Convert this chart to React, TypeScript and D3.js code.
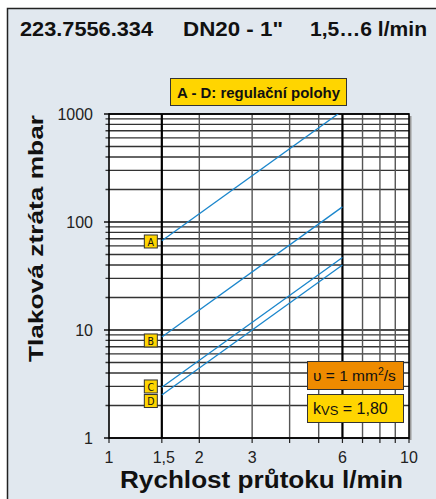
import React from 'react';
import * as d3 from 'd3';

// průtok l/min a tlaková ztráta mbar pro regulační polohy A - D
const flow = [1.5, 6];
const seriesNames = ['A', 'B', 'C', 'D'];
const lossA = [67, 1072];
const lossB = [8.6, 138];
const lossC = [2.95, 47];
const lossD = [2.5, 40];
const labelAt = [66, 8.0, 3.0, 2.2];

const xTickValues = [1, 1.5, 2, 3, 6, 10];
const xTickLabels = ['1', '1,5', '2', '3', '6', '10'];
const xGridValues = [1.5, 2, 3, 4, 5, 6, 7, 8, 9];
const xBold = [1.5, 6];
const yTickValues = [1, 10, 100, 1000];

const W = 436;
const H = 499;
const font = '"Liberation Sans", Arial, Helvetica, sans-serif';

const App: React.FC = () => {
  const x = d3.scaleLog().domain([1, 10]).range([109, 409]);
  const y = d3.scaleLog().domain([1, 1000]).range([438, 114]);
  const line = d3.line<[number, number]>()
    .x(d => x(d[0]))
    .y(d => y(d[1]));

  const series = [lossA, lossB, lossC, lossD];
  const yMinor = y.ticks().filter(v => !yTickValues.includes(v));
  const [x0, x1] = x.range();
  const [y0, y1] = y.range();

  return (
    <svg width={W} height={H} style={{ position: 'absolute', left: 0, top: 0 }} fontFamily={font}>
      <defs>
        <clipPath id="plot">
          <rect x={x0} y={y1} width={x1 - x0} height={y0 - y1} />
        </clipPath>
      </defs>
      <rect x={0} y={0} width={W} height={H} fill="#fff" />
      <rect x={7.5} y={8.5} width={440} height={510} fill="#e1e8ef" stroke="#222" strokeWidth={1.5} />

      {/* titulek */}
      <g fontWeight="bold" fontSize={19.5} fill="#111">
        <text x={20} y={36} textLength={133} lengthAdjust="spacingAndGlyphs">223.7556.334</text>
        <text x={183} y={36} textLength={100} lengthAdjust="spacingAndGlyphs">DN20 - 1"</text>
        <text x={310} y={36} textLength={117} lengthAdjust="spacingAndGlyphs">1,5…6 l/min</text>
      </g>

      {/* legenda nahoře */}
      <rect x={170.5} y={78.5} width={176} height={27} fill="#ffd500" stroke="#333" strokeWidth={1} />
      <text x={177} y={97.5} fontWeight="bold" fontSize={14.5} fill="#111" textLength={163} lengthAdjust="spacingAndGlyphs">A - D: regulační polohy</text>

      {/* plocha grafu */}
      <rect x={x1} y={y1 + 2} width={2.5} height={y0 - y1} fill="#9a9a9a" />
      <rect x={x0} y={y1} width={x1 - x0} height={y0 - y1} fill="#fff" />

      {yMinor.map(v => (
        <line key={'h' + v} x1={x0 - 3.5} x2={x1} y1={y(v)} y2={y(v)} stroke="#333" strokeWidth={1.3} />
      ))}
      {yTickValues.map(v => (
        <line key={'hm' + v} x1={x0 - 5} x2={x1} y1={y(v)} y2={y(v)} stroke="#111" strokeWidth={1.4} />
      ))}
      {xGridValues.map(v => (
        <line key={'v' + v} x1={x(v)} x2={x(v)} y1={y1} y2={y0} stroke={xBold.includes(v) ? '#000' : '#555'} strokeWidth={xBold.includes(v) ? 2.2 : 1.4} />
      ))}
      {[1, ...xGridValues, 10].map(v => (
        <line key={'xt' + v} x1={x(v)} x2={x(v)} y1={y0} y2={y0 + 5} stroke="#222" strokeWidth={1.2} />
      ))}
      <rect x={x0} y={y1} width={x1 - x0} height={y0 - y1} fill="none" stroke="#000" strokeWidth={1.6} />

      {/* křivky */}
      <g clipPath="url(#plot)">
        {series.map((s, i) => (
          <path key={seriesNames[i]} d={line(flow.map((f, j) => [f, s[j]] as [number, number])) || ''} fill="none" stroke="#1a86cc" strokeWidth={1.3} />
        ))}
      </g>
      {seriesNames.map((n, i) => (
        <g key={'lab' + n} transform={`translate(${x(flow[0]) - 11},${y(labelAt[i])})`}>
          <rect x={-6.5} y={-6.5} width={13} height={13} fill="#ffd500" stroke="#333" strokeWidth={1} />
          <text x={0} y={4.2} textAnchor="middle" fontSize={10.5} fontFamily='"DejaVu Sans Condensed", "DejaVu Sans", sans-serif' fill="#111">{n}</text>
        </g>
      ))}

      {/* popisky os */}
      <g fontSize={16} fill="#222">
        {yTickValues.map(v => (
          <text key={'yl' + v} x={93} y={y(v) + 6} textAnchor="end">{v}</text>
        ))}
        {xTickValues.map((v, i) => (
          <text key={'xl' + v} x={x(v) + (v === 1.5 ? 2 : 0)} y={463} textAnchor="middle">{xTickLabels[i]}</text>
        ))}
      </g>
      <text transform="translate(43,238.5) rotate(-90)" textAnchor="middle" fontWeight="bold" fontSize={21} fill="#111" textLength={247} lengthAdjust="spacingAndGlyphs">Tlaková ztráta mbar</text>
      <text x={120} y={488} fontWeight="bold" fontSize={23} fill="#111" textLength={283} lengthAdjust="spacingAndGlyphs">Rychlost průtoku l/min</text>

      {/* boxy vpravo dole */}
      <rect x={307.5} y={361.5} width={96} height={28} fill="#ee8b00" stroke="#333" strokeWidth={1} />
      <text x={313} y={381} fontSize={15.5} fill="#111">υ = 1 mm<tspan dy={-6} fontSize={10.5}>2</tspan><tspan dy={6}>/s</tspan></text>
      <rect x={307.5} y={394.5} width={96} height={28} fill="#ffd500" stroke="#333" strokeWidth={1} />
      <text x={313} y={414} fontSize={16} fill="#111">k<tspan fontSize={13} dy={1}>VS</tspan><tspan dy={-1}> = 1,80</tspan></text>
    </svg>
  );
};

export default App;
